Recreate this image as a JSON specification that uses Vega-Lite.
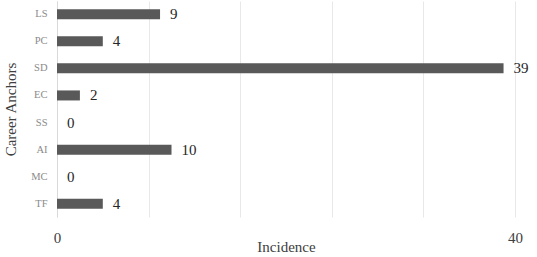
{
  "$schema": "https://vega.github.io/schema/vega-lite/v6.json",
  "width": 458,
  "height": 216,
  "autosize": {"type": "none"},
  "padding": {"left": 57, "top": 1, "right": 22, "bottom": 40},
  "background": "white",
  "config": {
    "view": {"stroke": null},
    "font": "Liberation Serif"
  },
  "data": {
    "values": [
      {"anchor": "LS", "incidence": 9},
      {"anchor": "PC", "incidence": 4},
      {"anchor": "SD", "incidence": 39},
      {"anchor": "EC", "incidence": 2},
      {"anchor": "SS", "incidence": 0},
      {"anchor": "AI", "incidence": 10},
      {"anchor": "MC", "incidence": 0},
      {"anchor": "TF", "incidence": 4}
    ]
  },
  "encoding": {
    "y": {
      "field": "anchor",
      "type": "nominal",
      "sort": ["LS", "PC", "SD", "EC", "SS", "AI", "MC", "TF"],
      "scale": {"paddingInner": 0.63, "paddingOuter": 0.3},
      "axis": {
        "title": "Career Anchors",
        "titleFont": "Liberation Serif",
        "titleFontSize": 15,
        "titleFontWeight": "normal",
        "titleColor": "#404040",
        "titlePadding": 12,
        "labelFont": "Liberation Serif",
        "labelFontSize": 10.5,
        "labelColor": "#8a8a8a",
        "labelPadding": 10,
        "ticks": false,
        "domain": true,
        "domainColor": "#d9d9d9",
        "grid": false
      }
    },
    "x": {
      "field": "incidence",
      "type": "quantitative",
      "scale": {"domain": [0, 40], "nice": false},
      "axis": {
        "title": "Incidence",
        "titleFont": "Liberation Serif",
        "titleFontSize": 15,
        "titleFontWeight": "normal",
        "titleColor": "#404040",
        "titlePadding": -6,
        "values": [0, 8, 16, 24, 32, 40],
        "labelExpr": "datum.value % 40 === 0 ? datum.label : ''",
        "labelFlush": false,
        "labelFont": "Liberation Serif",
        "labelFontSize": 15,
        "labelColor": "#404040",
        "labelPadding": 13,
        "ticks": false,
        "domain": false,
        "grid": true,
        "gridColor": "#e8e8e8"
      }
    }
  },
  "layer": [
    {"mark": {"type": "bar", "color": "#595959"}},
    {
      "mark": {"type": "text", "align": "left", "dx": 10, "fontSize": 15, "font": "Liberation Serif", "color": "#262626", "baseline": "middle"},
      "encoding": {"text": {"field": "incidence", "type": "quantitative"}}
    }
  ]
}
